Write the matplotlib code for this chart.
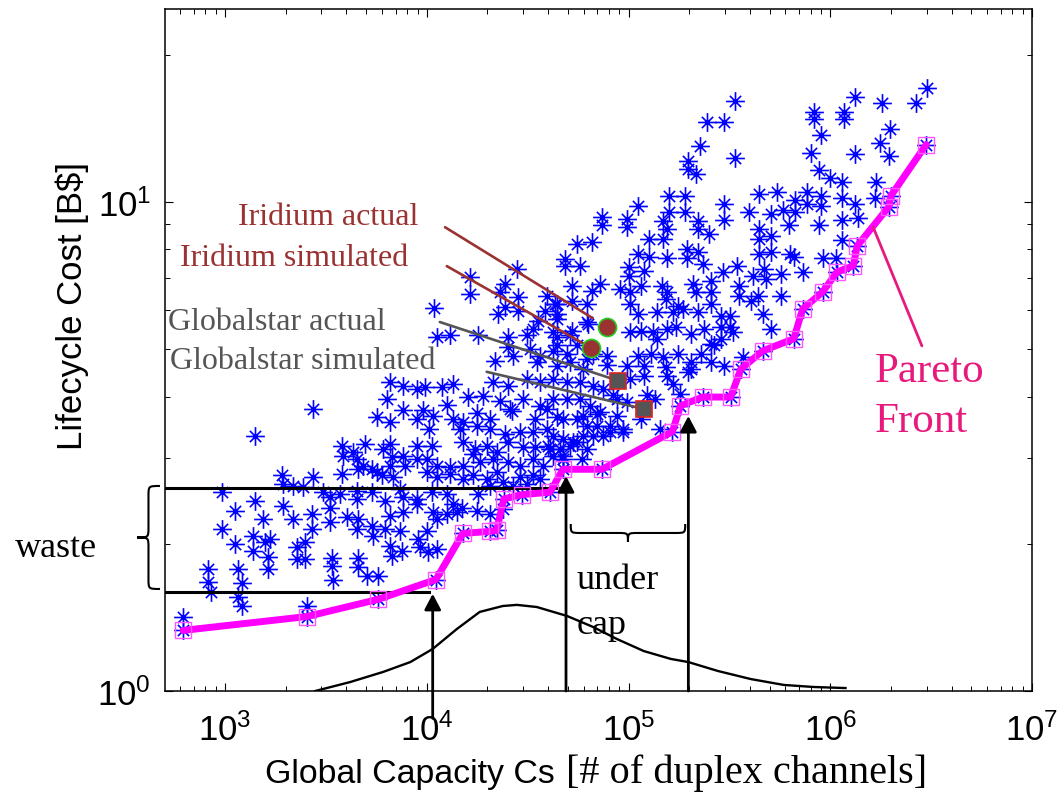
import matplotlib
matplotlib.use("Agg")
import matplotlib.pyplot as plt
from matplotlib import font_manager
from matplotlib.path import Path
from matplotlib.patches import PathPatch
from matplotlib.ticker import NullFormatter

# fonts: narrow helvetica-like for axes, times-like for the notes
installed = {f.name for f in font_manager.fontManager.ttflist}
SANS = "Liberation Sans Narrow" if "Liberation Sans Narrow" in installed else "Liberation Sans"
SERIF = "Liberation Serif"
SANS_SIZE = 29 if SANS.endswith("Narrow") else 25

plt.rcParams["font.family"] = [SANS, "DejaVu Sans"]
plt.rcParams["mathtext.default"] = "regular"

# ---- simulated designs (capacity [channels], lifecycle cost [B$]) ----
upper_cap = [3.0e6, 1.32e6, 1.81e6, 2.67e6, 8.3e5, 8.3e5, 1.17e6, 1.17e6, 3.36e5, 2.44e5,
             2.96e5, 9.0e5, 1.98e6, 2.25e5, 3.36e5, 1.98e5, 1.98e5, 2.17e5, 8.0e5, 1.32e6,
             1.77e6, 1.96e6, 8.77e5, 1.0e6, 1.15e6, 1.69e6, 1.67e6, 1.58e5, 1.9e5, 1.58e5,
             1.9e5, 1.12e5, 7.4e4, 7.4e4, 9.8e4, 9.8e4, 5.55e4, 6.6e4, 2.96e5, 2.96e5,
             4.42e5, 5.43e5, 7.65e5, 9.0e5, 9.0e5, 1.15e6, 1.32e6, 3.94e5, 5.07e5, 5.81e5,
             6.67e5, 6.67e5, 7.65e5, 1.15e6, 1.38e6, 8.77e5, 6.22e5, 2.2e5, 2.2e5, 2.52e5,
             1.49e5, 1.56e5, 1.49e5, 1.26e5, 4.42e5, 4.42e5, 5.07e5, 1.15e6, 4.84e4, 4.84e4,
             5.75e4, 1.12e5, 1.26e5, 1.96e5, 2.2e5, 1.96e5, 2.33e5, 1.56e5, 4.42e5, 5.07e5,
             6.29e5, 6.59e5, 9.18e5, 1.07e6, 7.3e5, 3.43e5, 2.93e5, 4.12e5, 4.68e5, 4.79e5,
             5.68e5, 1.0e5, 1.0e5, 1.19e5, 5.25e4, 6.59e4, 7.22e4, 6.22e4, 5.25e4, 9.07e4,
             1.02e5, 1.15e5, 1.12e5, 1.02e5, 1.47e5, 1.56e5, 1.53e5, 1.75e5, 2.08e5, 2.15e5,
             2.55e5, 2.55e5, 2.55e5, 2.2e5, 2.86e5, 3.2e5, 2.86e5, 3.2e5, 3.51e5, 3.51e5,
             4.03e5, 4.37e5, 4.63e5, 5.07e5, 5.68e5, 4.42e4, 4.42e4, 6.22e4, 1.02e5, 1.15e5,
             1.33e5, 1.39e5, 1.56e5, 1.71e5, 2.03e5, 2.36e5, 2.55e5]
upper_cost = [17.1, 16.4, 15.9, 15.9, 15.3, 14.8, 15.3, 14.8, 16.1, 14.6,
              14.6, 13.7, 14.1, 13.0, 12.3, 12.1, 11.7, 11.4, 12.6, 12.5,
              13.2, 12.4, 11.6, 11.2, 11.0, 11.0, 10.2, 10.3, 10.3, 9.53,
              9.53, 9.8, 9.3, 8.96, 9.22, 8.88, 8.2, 8.27, 9.89, 9.17,
              10.4, 10.5, 10.5, 10.3, 9.8, 10.2, 9.89, 9.53, 9.44, 9.62,
              10.1, 9.53, 9.89, 9.17, 9.26, 8.96, 8.96, 9.13, 8.79, 8.59,
              9.13, 8.79, 8.39, 8.39, 8.79, 8.39, 8.51, 8.35, 7.64, 7.39,
              7.39, 7.82, 7.73, 8.0, 7.89, 7.69, 7.48, 7.69, 7.82, 7.91,
              7.82, 7.73, 7.69, 7.69, 7.19, 7.39, 7.19, 7.05, 7.29, 6.95,
              7.12, 7.35, 7.05, 7.22, 6.72, 6.57, 6.79, 6.18, 6.27, 6.63,
              6.54, 6.73, 5.9, 6.18, 6.73, 6.54, 6.33, 6.12, 6.79, 6.54,
              6.89, 6.54, 6.18, 5.95, 5.84, 5.84, 5.55, 5.55, 6.73, 6.42,
              6.27, 6.42, 5.9, 5.49, 6.42, 6.18, 5.9, 5.68, 5.42, 5.45,
              5.42, 5.24, 5.49, 5.55, 5.37, 5.49, 5.12]

middle_cap = [1.08e4, 1.63e4, 1.63e4, 2.8e4, 2.44e4, 2.3e4, 2.83e4, 2.25e4, 2.44e4, 2.83e4,
              3.94e4, 4.32e4, 3.85e4, 4.42e4, 6.29e4, 5.25e4, 1.12e4, 1.3e4, 1.79e4, 2.52e4,
              3.13e4, 1.39e5, 1.67e5, 1.86e5, 3.36e4, 4.22e4, 5.13e4, 5.55e4, 4.42e4, 3.24e4,
              2.67e4, 3.63e4, 7.82e4, 1.11e5, 1.29e5, 1.49e5, 1.75e5, 2.03e5, 2.28e5, 2.64e5,
              2.86e5, 3.28e5, 4.42e4, 4.22e4, 6.67e4, 4.42e4, 5.13e4, 5.95e4, 7.82e4, 9.8e4,
              1.19e5, 1.53e5, 2.03e5, 2.55e5, 2.96e5, 3.68e5, 4.22e4, 4.95e4, 5.75e4, 6.67e4,
              7.47e4, 1.02e5, 1.19e5, 1.56e5, 1.67e5, 1.98e5, 4.22e4, 4.95e4, 5.75e4, 6.44e4,
              7.22e4, 8.77e4, 9.8e4, 1.24e5, 1.36e5, 1.81e5, 4.73e4, 5.55e4, 6.22e4, 6.98e4,
              8.1e4, 9.39e4, 1.15e5, 1.44e5, 4.22e4, 4.73e4, 5.31e4, 5.95e4, 6.67e4, 8.1e4,
              9.39e4, 4.08e4, 4.57e4, 5.13e4, 4.22e4, 4.73e4, 3.55e4, 2.17e4, 2.52e4, 3.51e4,
              4.95e4, 6.22e4]
middle_cost = [6.07, 7.02, 6.48, 7.29, 6.79, 6.54, 6.39, 5.9, 6.09, 5.98,
               6.42, 6.18, 5.98, 5.76, 5.62, 5.45, 5.3, 5.34, 5.34, 5.3,
               5.34, 5.95, 5.95, 6.04, 5.49, 5.42, 5.34, 5.09, 5.09, 5.0,
               4.84, 4.84, 4.84, 4.84, 4.88, 4.82, 4.88, 4.7, 4.88, 5.09,
               5.24, 5.42, 5.3, 4.95, 4.88, 4.62, 4.7, 4.55, 4.63, 4.61,
               4.61, 4.59, 4.55, 4.7, 4.61, 4.82, 4.34, 4.28, 4.28, 4.2,
               4.14, 4.34, 4.41, 4.41, 4.24, 4.49, 3.95, 3.95, 3.95, 3.82,
               3.72, 3.95, 3.89, 4.03, 3.95, 4.05, 3.6, 3.6, 3.48, 3.48,
               3.48, 3.43, 3.6, 3.43, 3.32, 3.27, 3.23, 3.32, 3.32, 3.38,
               3.38, 3.12, 3.12, 3.17, 3.02, 3.02, 5.71, 4.72, 5.05, 4.7,
               4.88, 4.77]

core_cap = [6.59e3, 7.65e3, 8.98e3, 9.84e3, 1.19e4, 1.35e4, 2.13e4, 2.52e4, 3.13e4, 3.63e4, 8.38e4,
            6.37e3, 1.6e4, 1.9e4, 2.3e4, 2.58e4, 3.0e4, 3.63e4,
            5.68e3, 6.59e3, 7.65e3, 8.98e3, 9.6e3, 1.07e4, 1.26e4, 1.35e4, 1.51e4, 1.77e4,
            2.05e4, 2.64e4, 3.43e4, 3.94e4, 4.42e4, 5.95e4, 6.98e4, 8.77e4,
            1.03e4, 1.46e4, 1.77e4, 2.05e4, 2.44e4, 2.9e4, 3.36e4, 3.94e4, 7.47e4,
            3.81e3, 4.32e3, 4.95e3, 6.08e3, 6.59e3, 8.98e3, 1.06e4, 1.51e4, 1.73e4, 1.98e4,
            2.22e4, 2.52e4, 3.0e4, 3.43e4, 3.98e4, 5.55e4, 6.22e4,
            3.85e3, 4.52e3, 4.84e3, 5.68e3, 6.59e3, 6.75e3, 7.65e3, 8.98e3, 1.0e4, 1.12e4,
            1.3e4, 1.51e4, 1.69e4, 1.83e4, 2.13e4, 2.52e4, 2.9e4, 3.36e4, 3.76e4, 4.73e4, 5.88e4,
            2.73e3, 3.81e3, 4.57e3, 5.37e3, 6.02e3, 6.82e3, 7.82e3, 1.0e4, 1.12e4, 1.3e4,
            1.51e4, 1.69e4, 1.98e4, 2.22e4, 2.38e4, 2.67e4, 2.9e4, 3.13e4, 3.36e4, 3.63e4]
core_cost = [4.28, 4.2, 4.14, 4.18, 4.18, 4.24, 4.28, 4.2, 4.34, 4.28, 4.03,
             3.95, 3.99, 4.01, 3.91, 3.77, 3.95, 3.82,
             3.63, 3.54, 3.75, 3.6, 3.75, 3.65, 3.84, 3.6, 3.55, 3.71,
             3.6, 3.74, 3.6, 3.77, 3.63, 3.65, 3.68, 3.65,
             3.43, 3.43, 3.48, 3.43, 3.35, 3.38, 3.38, 3.43, 3.32,
             3.17, 3.08, 3.2, 3.12, 3.2, 3.17, 3.17, 3.23, 3.12, 3.17,
             3.08, 3.23, 3.15, 3.15, 3.17, 3.23, 3.12,
             3.02, 2.98, 2.88, 2.8, 2.88, 3.01, 3.02, 2.98, 2.98, 2.88,
             2.87, 2.88, 3.05, 2.94, 2.98, 2.94, 2.88, 2.98, 2.88, 2.98, 2.98,
             2.74, 2.78, 2.84, 2.84, 2.77, 2.74, 2.88, 2.8, 2.74, 2.78,
             2.71, 2.76, 2.71, 2.8, 2.68, 2.62, 2.74, 2.65, 2.76, 2.71]

lower_cap = [1.92e3, 1.94e3, 2.17e3, 2.44e3, 3.06e3, 3.32e3, 3.72e3, 4.52e3, 5.37e3, 6.22e3,
             7.39e3, 7.65e3, 8.98e3, 1.06e4, 1.26e4, 1.35e4, 1.49e4, 1.79e4, 2.05e4,
             2.7e3, 3.32e3, 4.03e3, 4.57e3, 5.37e3, 6.22e3, 7.39e3, 1.0e4, 1.07e4, 1.26e4,
             1.77e4, 2.05e4, 2.7e3, 3.32e3, 4.52e3, 6.59e3, 7.65e3, 8.98e3, 1.12e4, 1.41e4, 2.38e4,
             2.49e3, 5.43e3, 6.59e3, 7.56e3, 9.07e3, 9.29e3, 1.01e4, 1.12e4, 2.49e3, 3.39e3,
             4.57e3, 6.75e3, 3.39e3, 3.43e3, 4.57e3, 5.07e3, 5.75e3, 2.28e3, 2.28e3]
lower_cost = [2.76, 2.65, 2.62, 2.61, 2.55, 2.49, 2.53, 2.56, 2.55, 2.45,
              2.59, 2.49, 2.47, 2.55, 2.53, 2.41, 2.37, 2.53, 2.62,
              2.3, 2.37, 2.27, 2.25, 2.17, 2.14, 2.12, 2.12, 2.32, 2.3,
              2.33, 2.3, 2.14, 2.22, 2.14, 2.28, 2.32, 2.41, 2.25, 2.32, 2.36,
              2.02, 2.07, 1.98, 1.93, 2.05, 1.97, 1.92, 1.95, 1.86, 1.87,
              1.87, 1.89, 1.8, 1.69, 1.79, 1.72, 1.72, 1.97, 1.86]

left_cap = [1.41e3, 2.73e3, 970, 1.12e3, 970, 1.12e3, 1.41e3, 1.54e3, 1.38e3, 1.38e3,
            1.58e3, 1.67e3, 1.63e3, 1.63e3, 1.94e3, 2.17e3, 820, 820, 850, 1.16e3,
            1.21e3, 1.16e3, 1.21e3, 620, 2.55e3, 4.52e3]
left_cost = [3.32, 3.77, 2.55, 2.33, 2.14, 2.0, 2.45, 2.25, 2.07, 1.93,
             2.02, 2.05, 1.88, 1.78, 2.39, 2.25, 1.78, 1.67, 1.59, 1.78,
             1.66, 1.56, 1.49, 1.42, 1.49, 2.47]

# Pareto-optimal designs
pareto_cap = [620, 2550, 5750, 1.11e4, 1.51e4, 2.05e4, 2.22e4, 2.41e4, 2.96e4, 4.08e4,
              4.73e4, 7.39e4, 1.65e5, 1.81e5, 2.33e5, 3.21e5, 3.6e5, 4.63e5, 6.59e5, 7.3e5,
              9.18e5, 1.08e6, 1.3e6, 1.36e6, 1.95e6, 2.0e6, 2.99e6]
pareto_cost = [1.33, 1.42, 1.54, 1.69, 2.1, 2.12, 2.13, 2.47, 2.52, 2.55,
               2.84, 2.84, 3.39, 3.83, 3.99, 3.99, 4.55, 4.96, 5.25, 6.04,
               6.55, 7.19, 7.4, 8.13, 9.77, 10.3, 13.1]

# real systems: [actual, simulated]
iridium_cap = [7.82e4, 6.52e4]
iridium_cost = [5.55, 5.03]
globalstar_cap = [8.87e4, 1.2e5]
globalstar_cost = [4.31, 3.77]

# demand distribution sketch (drawn near the bottom axis)
demand_cap = [2800, 4170, 6080, 8290, 1.07e4, 1.41e4, 1.83e4, 2.38e4, 2.8e4, 3.51e4,
              4.95e4, 6.67e4, 8.77e4, 1.19e5, 1.62e5, 1.98e5, 2.77e5, 4.03e5, 5.88e5, 8.29e5, 1.19e6]
demand_level = [1.0, 1.043, 1.094, 1.146, 1.219, 1.339, 1.451, 1.492, 1.5, 1.485,
                1.424, 1.352, 1.277, 1.207, 1.163, 1.146, 1.099, 1.058, 1.029, 1.019, 1.014]

# "waste" levels and "under cap" arrows
waste_levels = [1.59, 2.60]
waste_ends = [1.02e4, 4.85e4]
arrow_caps = [1.07e4, 4.9e4, 1.98e5]
arrow_tips = [1.58, 2.75, 3.65]

BLUE = "#0000ff"
BROWN = "#9b3232"
GRAY = "#555555"
PINK = "#e8197d"

# matlab-like asterisk: long plus arms, shorter diagonal arms
_d = 0.6
STAR = Path([(-1, 0), (1, 0), (0, -1), (0, 1), (-_d, -_d), (_d, _d), (-_d, _d), (_d, -_d)],
            [Path.MOVETO, Path.LINETO] * 4)


def curly_brace(ax, x0, x1, y0, y1, horizontal, r):
    # brace in axes fraction; vertical one points left, horizontal one points down
    M, C, L = Path.MOVETO, Path.CURVE4, Path.LINETO
    if horizontal:
        m = (y0 + y1) / 2
        c = (x0 + x1) / 2
        verts = [(x0, y1), (x0, m), (x0, m), (x0 + r, m), (c - r, m),
                 (c, m), (c, m), (c, y0), (c, m), (c, m), (c + r, m),
                 (x1 - r, m), (x1, m), (x1, m), (x1, y1)]
    else:
        m = (x0 + x1) / 2
        c = (y0 + y1) / 2
        verts = [(x1, y1), (m, y1), (m, y1), (m, y1 - r), (m, c + r),
                 (m, c), (m, c), (x0, c), (m, c), (m, c), (m, c - r),
                 (m, y0 + r), (m, y0), (m, y0), (x1, y0)]
    codes = [M, C, C, C, L, C, C, C, C, C, C, L, C, C, C]
    ax.add_patch(PathPatch(Path(verts, codes), transform=ax.transAxes,
                           fill=False, lw=1.5, color="k", clip_on=False))


fig = plt.figure(figsize=(10.59, 8.04), dpi=100)
ax = fig.add_axes([0.1558, 0.1393, 0.8187, 0.8483])
ax.set_xscale("log")
ax.set_yscale("log")
ax.set_xlim(504, 1e7)
ax.set_ylim(1, 24.8)

for cx, cy in [(upper_cap, upper_cost), (middle_cap, middle_cost), (core_cap, core_cost),
               (lower_cap, lower_cost), (left_cap, left_cost), (pareto_cap, pareto_cost)]:
    ax.plot(cx, cy, ls="none", marker=STAR, ms=13.5, mew=1.2, mfc="none",
            color=BLUE, zorder=2)

# pareto front
ax.plot(pareto_cap, pareto_cost, color="#ff00ff", lw=5.0, solid_joinstyle="round",
        solid_capstyle="round", zorder=4)
ax.plot(pareto_cap, pareto_cost, ls="none", marker="s", ms=11.5, mfc="none",
        mec="#ff55ff", mew=1.0, zorder=5)

# demand curve, waste lines, arrows
ax.plot(demand_cap, demand_level, color="k", lw=1.7, zorder=3)
for lvl, end in zip(waste_levels, waste_ends):
    ax.plot([504, end], [lvl, lvl], color="k", lw=2.2, zorder=3)
for cap, tip, base in zip(arrow_caps, arrow_tips, [-0.04, 0.0, 0.0]):
    ax.annotate("", xy=(cap, tip), xycoords="data", xytext=(cap, base),
                textcoords=ax.get_xaxis_transform(), annotation_clip=False,
                arrowprops=dict(arrowstyle="-|>,head_length=0.95,head_width=0.5",
                                mutation_scale=10, lw=2.0, color="k",
                                shrinkA=0, shrinkB=0), zorder=6)

# real systems
ax.plot(iridium_cap, iridium_cost, ls="none", marker="o", ms=13, mfc=BROWN,
        mec="#22cc22", mew=1.2, zorder=7)
ax.plot(globalstar_cap, globalstar_cost, ls="none", marker="s", ms=11.5, mfc=GRAY,
        mec="#e02020", mew=1.2, zorder=7)

pointers = [((0.323, 0.680), (iridium_cap[0], iridium_cost[0]), BROWN, 12),
            ((0.325, 0.623), (iridium_cap[1], iridium_cost[1]), BROWN, 4),
            ((0.317, 0.541), (globalstar_cap[0], globalstar_cost[0]), GRAY, 5),
            ((0.371, 0.468), (globalstar_cap[1], globalstar_cost[1]), GRAY, 5)]
for start, end, col, gap in pointers:
    ax.annotate("", xy=end, xycoords="data", xytext=start, textcoords="axes fraction",
                arrowprops=dict(arrowstyle="-", color=col, lw=1.9, shrinkA=0, shrinkB=gap),
                zorder=6)

ax.text(0.084, 0.695, "Iridium actual", transform=ax.transAxes, family=SERIF,
        fontsize=23, color=BROWN, va="center", ha="left")
ax.text(0.017, 0.636, "Iridium simulated", transform=ax.transAxes, family=SERIF,
        fontsize=23, color=BROWN, va="center", ha="left")
ax.text(0.004, 0.542, "Globalstar actual", transform=ax.transAxes, family=SERIF,
        fontsize=23, color=GRAY, va="center", ha="left")
ax.text(0.006, 0.484, "Globalstar simulated", transform=ax.transAxes, family=SERIF,
        fontsize=23, color=GRAY, va="center", ha="left")

# pareto front label
ax.annotate("", xy=(1.63e6, 8.89), xycoords="data", xytext=(0.873, 0.506),
            textcoords="axes fraction",
            arrowprops=dict(arrowstyle="-", color=PINK, lw=2.0, shrinkA=0, shrinkB=0),
            zorder=6)
ax.text(0.819, 0.469, "Pareto", transform=ax.transAxes, family=SERIF, fontsize=31,
        color=PINK, va="center", ha="left")
ax.text(0.819, 0.396, "Front", transform=ax.transAxes, family=SERIF, fontsize=31,
        color=PINK, va="center", ha="left")

# braces and their notes
curly_brace(ax, -0.0323, -0.0058, 0.1496, 0.3006, horizontal=False, r=0.015)
ax.text(-0.173, 0.211, "waste", transform=ax.transAxes, family=SERIF, fontsize=26,
        va="center", ha="left")
curly_brace(ax, 0.468, 0.600, 0.2185, 0.2449, horizontal=True, r=0.012)
ax.text(0.475, 0.164, "under", transform=ax.transAxes, family=SERIF, fontsize=26,
        va="center", ha="left")
ax.text(0.475, 0.098, "cap", transform=ax.transAxes, family=SERIF, fontsize=26,
        va="center", ha="left")

# axes labels (mixed fonts on x)
ax.text(0.115, -0.133, "Global Capacity Cs", transform=ax.transAxes,
        fontsize=SANS_SIZE * 0.975, va="baseline", ha="left")
ax.text(0.463, -0.133, "[# of duplex channels]", transform=ax.transAxes, family=SERIF,
        fontsize=29, va="baseline", ha="left")
ax.text(-0.107, 0.566, "Lifecycle Cost [B$]", transform=ax.transAxes, fontsize=SANS_SIZE,
        rotation=90, va="center", ha="center")

ax.yaxis.set_minor_formatter(NullFormatter())
ax.xaxis.set_minor_formatter(NullFormatter())
ax.tick_params(which="both", direction="in", top=True, right=True, labelsize=SANS_SIZE)
ax.tick_params(which="major", length=6, width=0.8)
ax.tick_params(which="minor", length=3.5, width=0.7)
ax.tick_params(axis="x", pad=15)
ax.tick_params(axis="y", pad=10)
for s in ax.spines.values():
    s.set_linewidth(1.1)

fig.savefig("out.png", dpi=100)
